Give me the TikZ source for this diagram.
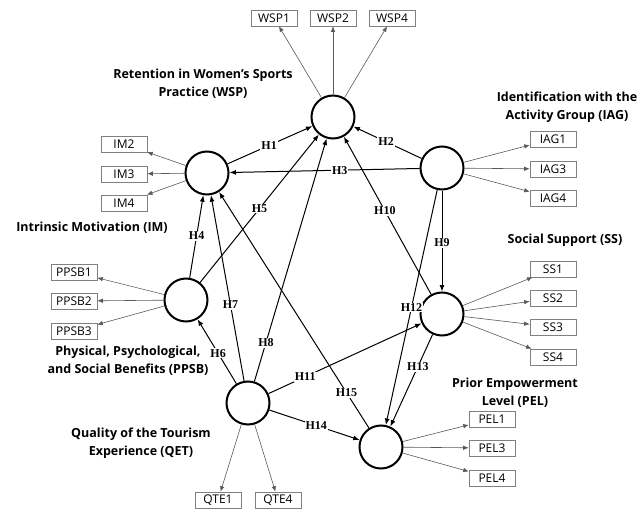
\documentclass[tikz,border=0pt]{standalone}
\usepackage{fontspec}
\setmainfont{Open Sans}
\newfontfamily\hypfont{Liberation Serif}
\usetikzlibrary{arrows.meta}

\begin{document}
\begin{tikzpicture}[x=1pt,y=-1pt,
  latent/.style={draw,circle,line width=2pt,minimum size=43pt,inner sep=0pt},
  item/.style={draw=gray,line width=0.6pt,minimum width=46pt,minimum height=16pt,
    inner sep=0pt,font=\fontsize{12}{12}\selectfont},
  construct/.style={align=center,font=\bfseries\fontsize{12.5}{18}\selectfont},
  load/.style={draw=gray!70!black,line width=0.6pt,-{Latex[length=5.5pt,width=4.5pt]}},
  hpath/.style={line width=1pt,-{Latex[length=6.5pt,width=5pt]}},
  hyp/.style={fill=white,inner sep=1pt,font=\hypfont\bfseries\fontsize{12}{12}\selectfont},
]
  \useasboundingbox (0,0) rectangle (638,511);

  % latent variables
  \node[latent] (wsp) at (333,117) {};
  \node[latent] (im) at (207,173) {};
  \node[latent] (iag) at (442,168) {};
  \node[latent] (ss) at (442,314) {};
  \node[latent] (ppsb) at (186,300) {};
  \node[latent] (qet) at (248,403) {};
  \node[latent] (pel) at (381,447) {};

  % construct names
  \node[construct] (wspname) at (203,84) {Retention in Women's Sports\\Practice (WSP)};
  \node[construct] (iagname) at (567,107) {Identification with the\\Activity Group (IAG)};
  \node[construct] (imname) at (92,228) {Intrinsic Motivation (IM)};
  \node[construct] (ssname) at (565,240) {Social Support (SS)};
  \node[construct] (ppsbname) at (128,361) {Physical, Psychological,\\and Social Benefits (PPSB)};
  \node[construct] (qetname) at (141,443) {Quality of the Tourism\\Experience (QET)};
  \node[construct] (pelname) at (515,393) {Prior Empowerment\\Level (PEL)};

  % indicators
  \node[item] (wsp1) at (274,18) {WSP1};
  \node[item] (wsp2) at (333,18) {WSP2};
  \node[item] (wsp4) at (392,18) {WSP4};
  \node[item] (im2) at (124,144) {IM2};
  \node[item] (im3) at (124,174) {IM3};
  \node[item] (im4) at (124,203) {IM4};
  \node[item] (iag1) at (553,139) {IAG1};
  \node[item] (iag3) at (553,169) {IAG3};
  \node[item] (iag4) at (553,198) {IAG4};
  \node[item] (ss1) at (553,269) {SS1};
  \node[item] (ss2) at (553,298) {SS2};
  \node[item] (ss3) at (553,327) {SS3};
  \node[item] (ss4) at (553,357) {SS4};
  \node[item] (pel1) at (492,419) {PEL1};
  \node[item] (pel3) at (492,448) {PEL3};
  \node[item] (pel4) at (492,478) {PEL4};
  \node[item] (ppsb1) at (74,272) {PPSB1};
  \node[item] (ppsb2) at (74,301) {PPSB2};
  \node[item] (ppsb3) at (74,331) {PPSB3};
  \node[item] (qte1) at (218,500) {QTE1};
  \node[item] (qte4) at (278,500) {QTE4};

  % outer loadings
  \draw[load] (wsp) -- (wsp1);
  \draw[load] (wsp) -- (wsp2);
  \draw[load] (wsp) -- (wsp4);
  \draw[load] (im) -- (im2);
  \draw[load] (im) -- (im3);
  \draw[load] (im) -- (im4);
  \draw[load] (iag) -- (iag1);
  \draw[load] (iag) -- (iag3);
  \draw[load] (iag) -- (iag4);
  \draw[load] (ss) -- (ss1);
  \draw[load] (ss) -- (ss2);
  \draw[load] (ss) -- (ss3);
  \draw[load] (ss) -- (ss4);
  \draw[load] (pel) -- (pel1);
  \draw[load] (pel) -- (pel3);
  \draw[load] (pel) -- (pel4);
  \draw[load] (ppsb) -- (ppsb1);
  \draw[load] (ppsb) -- (ppsb2);
  \draw[load] (ppsb) -- (ppsb3);
  \draw[load] (qet) -- (qte1);
  \draw[load] (qet) -- (qte4);

  % hypotheses
  \draw[hpath] (im) -- node[hyp,pos=0.49] {H1} (wsp);
  \draw[hpath] (iag) -- node[hyp,pos=0.52] {H2} (wsp);
  \draw[hpath] (iag) -- node[hyp,pos=0.42] {H3} (im);
  \draw[hpath] (ppsb) -- node[hyp,pos=0.51] {H4} (im);
  \draw[hpath] (ppsb) -- node[hyp,pos=0.50] {H5} (wsp);
  \draw[hpath] (qet) -- node[hyp,pos=0.47] {H6} (ppsb);
  \draw[hpath] (qet) -- node[hyp,pos=0.41] {H7} (im);
  \draw[hpath] (qet) -- node[hyp,pos=0.16] {H8} (wsp);
  \draw[hpath] (iag) -- node[hyp,pos=0.52] {H9} (ss);
  \draw[hpath] (ss) -- node[hyp,pos=0.53] {H10} (wsp);
  \draw[hpath] (qet) -- node[hyp,pos=0.24] {H11} (ss);
  \draw[hpath] (iag) -- node[hyp,pos=0.50] {H12} (pel);
  \draw[hpath] (ss) -- node[hyp,pos=0.35] {H13} (pel);
  \draw[hpath] (qet) -- node[hyp,pos=0.52] {H14} (pel);
  \draw[hpath] (pel) -- node[hyp,pos=0.15] {H15} (im);
\end{tikzpicture}
\end{document}
